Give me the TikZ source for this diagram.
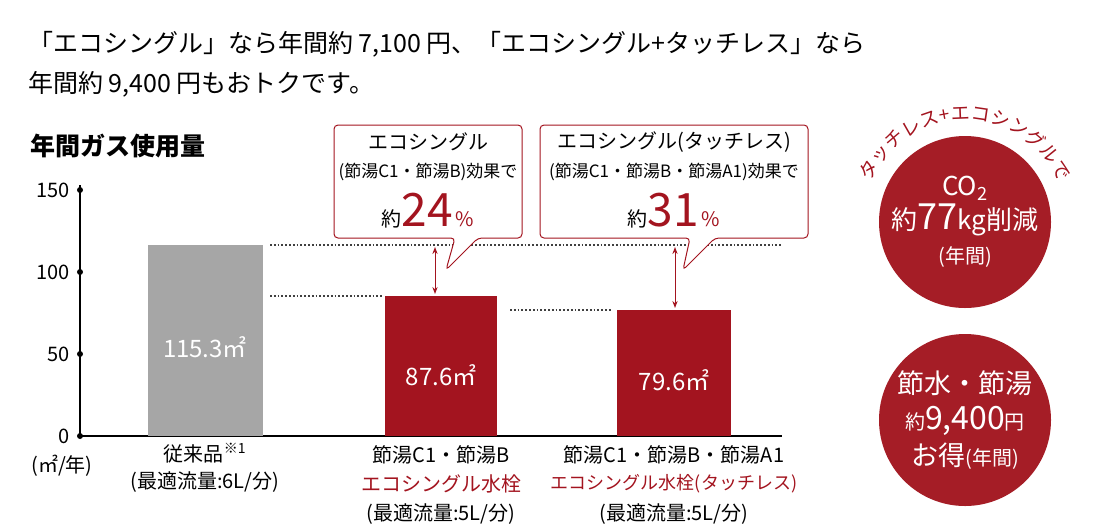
\documentclass[tikz,border=0pt]{standalone}
\usepackage{fontspec}
\setmainfont{Noto Sans CJK JP}
\usetikzlibrary{decorations.text,arrows.meta}
\definecolor{dred}{HTML}{A3141F}
\definecolor{cred}{HTML}{A51D26}
\definecolor{gbar}{HTML}{A6A6A6}
\begin{document}
\begin{tikzpicture}[x=1pt,y=-1pt,
 txt/.style={inner sep=0pt,anchor=base west,font=\fontsize{25}{28}\selectfont},
 lab/.style={inner sep=0pt,font=\fontsize{20}{24}\selectfont},
 tick/.style={inner sep=0pt,anchor=east,font=\fontsize{20}{24}\selectfont},
 dots/.style={dotted,line width=1.8pt,black!75},
 callout/.style={draw=dred,line width=1pt,fill=white,rounded corners=4pt},
 val/.style={inner sep=0pt,text=white,font=\fontsize{24}{28}\selectfont},
 circ/.style={circle,fill=cred,minimum size=172pt,inner sep=0pt}]
\useasboundingbox (0,0) rectangle (1115,531);
\node[txt] (t1) at (28,52) {「エコシングル」なら年間約 7,100 円、「エコシングル+タッチレス」なら};
\node[txt] (t2) at (28,92) {年間約 9,400 円もおトクです。};
\node[txt,font=\fontsize{25}{28}\selectfont\bfseries] (t3) at (30,155) {年間ガス使用量};
% axis
\coordinate (ytop) at (80,185);
\coordinate (o) at (80,436);
\coordinate (xend) at (782,436);
\draw[line width=1.2pt] (ytop) -- (o) -- (xend);
\foreach \v/\y in {150/190,100/272,50/354,0/436}{
 \fill (80,\y) circle (3pt);
 \node[tick] at (70,\y) {\v};}
\node[lab] (unit) at (62,466) {(㎡/年)};
% bars
\fill[gbar] (148,245) rectangle (263,436);
\fill[dred] (385,296) rectangle (497,436);
\fill[dred] (617,310) rectangle (731,436);
\node[val] (v1) at (205,347) {115.3㎡};
\node[val] (v2) at (441,375) {87.6㎡};
\node[val] (v3) at (674,380) {79.6㎡};
% dotted
\draw[dots] (270,245) -- (782,245);
\draw[dots] (270,296) -- (383,296);
\draw[dots] (510,310) -- (612,310);
% arrows
\coordinate (a1t) at (435,247); \coordinate (a1b) at (435,294);
\coordinate (a2t) at (675,247); \coordinate (a2b) at (675,308);
\draw[dred,line width=1pt,{Stealth[length=7pt]}-{Stealth[length=7pt]}] (a1t) -- (a1b);
\draw[dred,line width=1pt,{Stealth[length=7pt]}-{Stealth[length=7pt]}] (a2t) -- (a2b);
% callouts
\draw[callout] (334,125) -- (522,125) -- (522,238) -- (478,238) -- (446,270) -- (455,238) -- (334,238) -- cycle;
\draw[callout] (540,125) -- (808,125) -- (808,238) -- (715,238) -- (683,270) -- (690,238) -- (540,238) -- cycle;
\node[lab] (c1a) at (428,142) {エコシングル};
\node[lab,font=\fontsize{17}{22}\selectfont] (c1b) at (428,172) {(節湯C1・節湯B)効果で};
\node[lab,anchor=base] (c1c) at (428,226) {約\textcolor{dred}{\fontsize{46}{46}\selectfont 24}\textcolor{dred}{\,\%}};
\node[lab] (c2a) at (674,142) {エコシングル(タッチレス)};
\node[lab,font=\fontsize{17}{22}\selectfont] (c2b) at (674,172) {(節湯C1・節湯B・節湯A1)効果で};
\node[lab,anchor=base] (c2c) at (674,226) {約\textcolor{dred}{\fontsize{46}{46}\selectfont 31}\textcolor{dred}{\,\%}};
% x labels
\node[lab] (x1a) at (205,453) {従来品\textsuperscript{※1}};
\node[lab] (x1b) at (205,482) {(最適流量:6L/分)};
\node[lab] (x2a) at (441,455) {節湯C1・節湯B};
\node[lab,text=dred] (x2b) at (441,484) {エコシングル水栓};
\node[lab] (x2c) at (441,514) {(最適流量:5L/分)};
\node[lab] (x3a) at (674,455) {節湯C1・節湯B・節湯A1};
\node[lab,text=dred,font=\fontsize{18}{22}\selectfont] (x3b) at (674,484) {エコシングル水栓(タッチレス)};
\node[lab] (x3c) at (674,514) {(最適流量:5L/分)};
% circles
\node[circ] (k1) at (965,222) {};
\node[circ] (k2) at (965,420) {};
\node[inner sep=0pt,text=white,align=center,font=\fontsize{26}{34}\selectfont] at (k1) {CO\textsubscript{2}\\約{\fontsize{36}{36}\selectfont 77}kg削減\\{\fontsize{20}{26}\selectfont (年間)}};
\node[inner sep=0pt,text=white,align=center,font=\fontsize{27}{36}\selectfont] at (k2) {節水・節湯\\{\fontsize{20}{20}\selectfont 約}{\fontsize{32}{34}\selectfont 9,400}{\fontsize{20}{20}\selectfont 円}\\お得{\fontsize{20}{20}\selectfont (年間)}};
\path[decorate,decoration={text along path,text align=center,
 text={|\fontsize{19}{22}\selectfont\color{dred}|タッチレス+エコシングルで}}]
 (965,222) ++(-165:102) arc[start angle=-165,end angle=-15,radius=102];
\end{tikzpicture}
\end{document}
